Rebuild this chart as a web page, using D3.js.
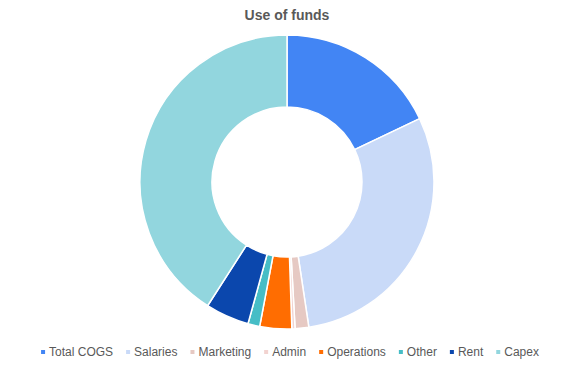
<!DOCTYPE html>
<html>
<head>
<meta charset="utf-8">
<script src="https://cdn.jsdelivr.net/npm/d3@7"></script>
<style>
  body { margin: 0; background: #fff; }
  svg { display: block; font-family: "Liberation Sans", Arial, sans-serif; }
</style>
</head>
<body>
<div id="chart"></div>
<script>
// data (share of total, %)
const categories = ["Total COGS", "Salaries", "Marketing", "Admin", "Operations", "Other", "Rent", "Capex"];
const values = [17.9, 29.7, 1.5, 0.35, 3.5, 1.3, 4.8, 40.9];
const colors = ["#4285F4", "#C9DAF8", "#E6C9C3", "#F2D3D0", "#FF6D01", "#46BDC6", "#0B47AD", "#92D6DE"];

const width = 575, height = 368;
const cx = 287, cy = 182;
const outerR = 147, innerR = 75;

const svg = d3.select("#chart").append("svg")
    .attr("width", width)
    .attr("height", height);

// title
svg.append("text")
    .attr("x", 287)
    .attr("y", 20)
    .attr("text-anchor", "middle")
    .attr("font-size", 14)
    .attr("font-weight", "bold")
    .attr("fill", "#595959")
    .text("Use of funds");

const data = categories.map((c, i) => ({ name: c, value: values[i], color: colors[i] }));

const pie = d3.pie().sort(null).value(d => d.value);
const arc = d3.arc().innerRadius(innerR).outerRadius(outerR);

const g = svg.append("g").attr("transform", `translate(${cx},${cy})`);

g.selectAll("path")
    .data(pie(data))
    .enter()
    .append("path")
    .attr("d", arc)
    .attr("fill", d => d.data.color)
    .attr("stroke", "#fff")
    .attr("stroke-width", 1.5);

// legend, centred along the bottom
const legend = svg.append("g").attr("font-size", 12);
const items = legend.selectAll("g")
    .data(data)
    .enter().append("g");

items.append("rect")
    .attr("width", 4)
    .attr("height", 4)
    .attr("y", -6)
    .attr("fill", d => d.color);

items.append("text")
    .attr("x", 8)
    .attr("fill", "#595959")
    .text(d => d.name);

const gap = 13;
let xPos = 0;
items.each(function () {
    const w = d3.select(this).select("text").node().getComputedTextLength();
    d3.select(this).attr("transform", `translate(${xPos},0)`);
    xPos += 8 + w + gap;
});
const totalW = xPos - gap;
legend.attr("transform", `translate(${290 - totalW / 2},356)`);
</script>
</body>
</html>
